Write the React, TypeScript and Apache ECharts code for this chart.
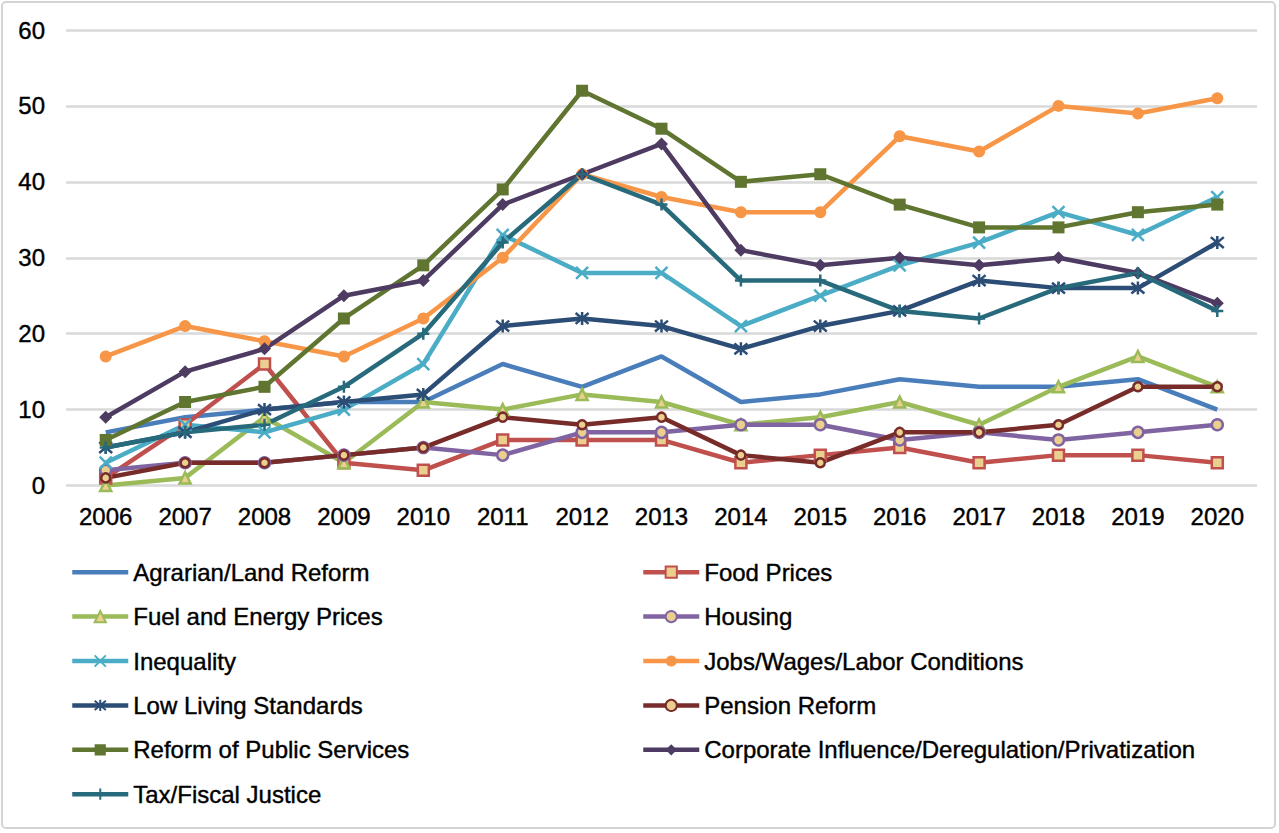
import React, { useEffect, useRef } from "react";
import * as echarts from "echarts";

const years = ["2006","2007","2008","2009","2010","2011","2012","2013","2014","2015","2016","2017","2018","2019","2020"];

const agrarian = [7, 9, 10, 11, 11, 16, 13, 17, 11, 12, 14, 13, 13, 14, 10];
const foodPrices = [1, 8, 16, 3, 2, 6, 6, 6, 3, 4, 5, 3, 4, 4, 3];
const fuelEnergy = [0, 1, 9, 3, 11, 10, 12, 11, 8, 9, 11, 8, 13, 17, 13];
const housing = [2, 3, 3, 4, 5, 4, 7, 7, 8, 8, 6, 7, 6, 7, 8];
const inequality = [3, 8, 7, 10, 16, 33, 28, 28, 21, 25, 29, 32, 36, 33, 38];
const jobsWages = [17, 21, 19, 17, 22, 30, 41, 38, 36, 36, 46, 44, 50, 49, 51];
const lowLiving = [5, 7, 10, 11, 12, 21, 22, 21, 18, 21, 23, 27, 26, 26, 32];
const pension = [1, 3, 3, 4, 5, 9, 8, 9, 4, 3, 7, 7, 8, 13, 13];
const publicServices = [6, 11, 13, 22, 29, 39, 52, 47, 40, 41, 37, 34, 34, 36, 37];
const corporate = [9, 15, 18, 25, 27, 37, 41, 45, 31, 29, 30, 29, 30, 28, 24];
const taxFiscal = [5, 7, 8, 13, 20, 32, 41, 37, 27, 27, 23, 22, 26, 28, 23];

const yTicks = { min: 0, max: 60, interval: 10 };

const leftLegend = [
  "Agrarian/Land Reform",
  "Fuel and Energy Prices",
  "Inequality",
  "Low Living Standards",
  "Reform of Public Services",
  "Tax/Fiscal Justice",
];
const rightLegend = [
  "Food Prices",
  "Housing",
  "Jobs/Wages/Labor Conditions",
  "Pension Reform",
  "Corporate Influence/Deregulation/Privatization",
];

const FONT = "'Liberation Sans', Arial, Helvetica, sans-serif";
const MARKER_FILL = "#EBCF8E";

const X_PATH = "path://M0,0L10,10M10,0L0,10";
const STAR_PATH = "path://M0,0L10,10M10,0L0,10M5,-1L5,11";
const PLUS_PATH = "path://M5,0L5,10M0,5L10,5";

type Def = {
  name: string;
  data: number[];
  color: string;
  symbol: string;
  size: number;
  fill?: string;
  stroke?: boolean;
};

const defs: Def[] = [
  { name: "Agrarian/Land Reform", data: agrarian, color: "#4A7EBB", symbol: "none", size: 0 },
  { name: "Food Prices", data: foodPrices, color: "#C0504D", symbol: "rect", size: 11, fill: MARKER_FILL },
  { name: "Fuel and Energy Prices", data: fuelEnergy, color: "#9BBB59", symbol: "triangle", size: 11, fill: MARKER_FILL },
  { name: "Housing", data: housing, color: "#8064A2", symbol: "circle", size: 11, fill: MARKER_FILL },
  { name: "Inequality", data: inequality, color: "#4BACC6", symbol: X_PATH, size: 12, stroke: true },
  { name: "Jobs/Wages/Labor Conditions", data: jobsWages, color: "#F79646", symbol: "circle", size: 12 },
  { name: "Low Living Standards", data: lowLiving, color: "#2C4D75", symbol: STAR_PATH, size: 13, stroke: true },
  { name: "Pension Reform", data: pension, color: "#772C2A", symbol: "circle", size: 9, fill: MARKER_FILL },
  { name: "Reform of Public Services", data: publicServices, color: "#5F7530", symbol: "rect", size: 12 },
  { name: "Corporate Influence/Deregulation/Privatization", data: corporate, color: "#4D3B62", symbol: "diamond", size: 13 },
  { name: "Tax/Fiscal Justice", data: taxFiscal, color: "#276A7C", symbol: PLUS_PATH, size: 12, stroke: true },
];

export default function App() {
  const ref = useRef<HTMLDivElement>(null);

  useEffect(() => {
    if (!ref.current) return;
    const chart = echarts.init(ref.current, null, { renderer: "svg" });

    const series = defs.map((d) => ({
      name: d.name,
      type: "line",
      data: d.data,
      symbol: d.symbol,
      symbolSize: d.size,
      showSymbol: d.symbol !== "none",
      lineStyle: { color: d.color, width: 4.5 },
      itemStyle: d.stroke
        ? { color: d.color, borderColor: d.color, borderWidth: 2.5 }
        : d.fill
        ? { color: d.fill, borderColor: d.color, borderWidth: 2.5 }
        : { color: d.color, borderColor: d.color, borderWidth: 0 },
      emphasis: { disabled: true },
      z: 2,
    }));

    const legendItem = (name: string) =>
      name === "Agrarian/Land Reform"
        ? { name, itemStyle: { opacity: 0 } }
        : { name };

    const textBase = {
      fontFamily: FONT,
      fontSize: 24,
      color: "#000",
      textBorderColor: "#000",
      textBorderWidth: 0.4,
    };

    const legendCommon = {
      orient: "vertical",
      top: 555,
      itemWidth: 56,
      itemHeight: 14,
      itemGap: 20,
      selectedMode: false,
      lineStyle: { width: 4.5 },
      textStyle: { ...textBase, lineHeight: 24 },
    };

    chart.setOption({
      animation: false,
      backgroundColor: "#ffffff",
      grid: { left: 66, right: 22, top: 30, bottom: 833 - 485.5, containLabel: false },
      xAxis: {
        type: "category",
        data: years,
        boundaryGap: true,
        axisLine: { show: false },
        axisTick: { show: false },
        axisLabel: { ...textBase, margin: 19 },
        splitLine: { show: false },
      },
      yAxis: {
        type: "value",
        min: yTicks.min,
        max: yTicks.max,
        interval: yTicks.interval,
        axisLine: { show: false },
        axisTick: { show: false },
        axisLabel: { ...textBase, margin: 21 },
        splitLine: { show: true, lineStyle: { color: "#D9D9D9", width: 2.5 } },
      },
      legend: [
        { ...legendCommon, left: 65, data: leftLegend.map(legendItem) },
        { ...legendCommon, left: 636, data: rightLegend.map(legendItem) },
      ],
      series,
      graphic: [
        {
          type: "rect",
          shape: { x: 2, y: 2, width: 1273, height: 826, r: 4 },
          style: { fill: "none", stroke: "#D4D4D4", lineWidth: 2 },
          silent: true,
        },
      ],
    });

    return () => chart.dispose();
  }, []);

  return (
    <div
      ref={ref}
      style={{ position: "fixed", left: 0, top: 0, width: 1279, height: 833 }}
    />
  );
}
